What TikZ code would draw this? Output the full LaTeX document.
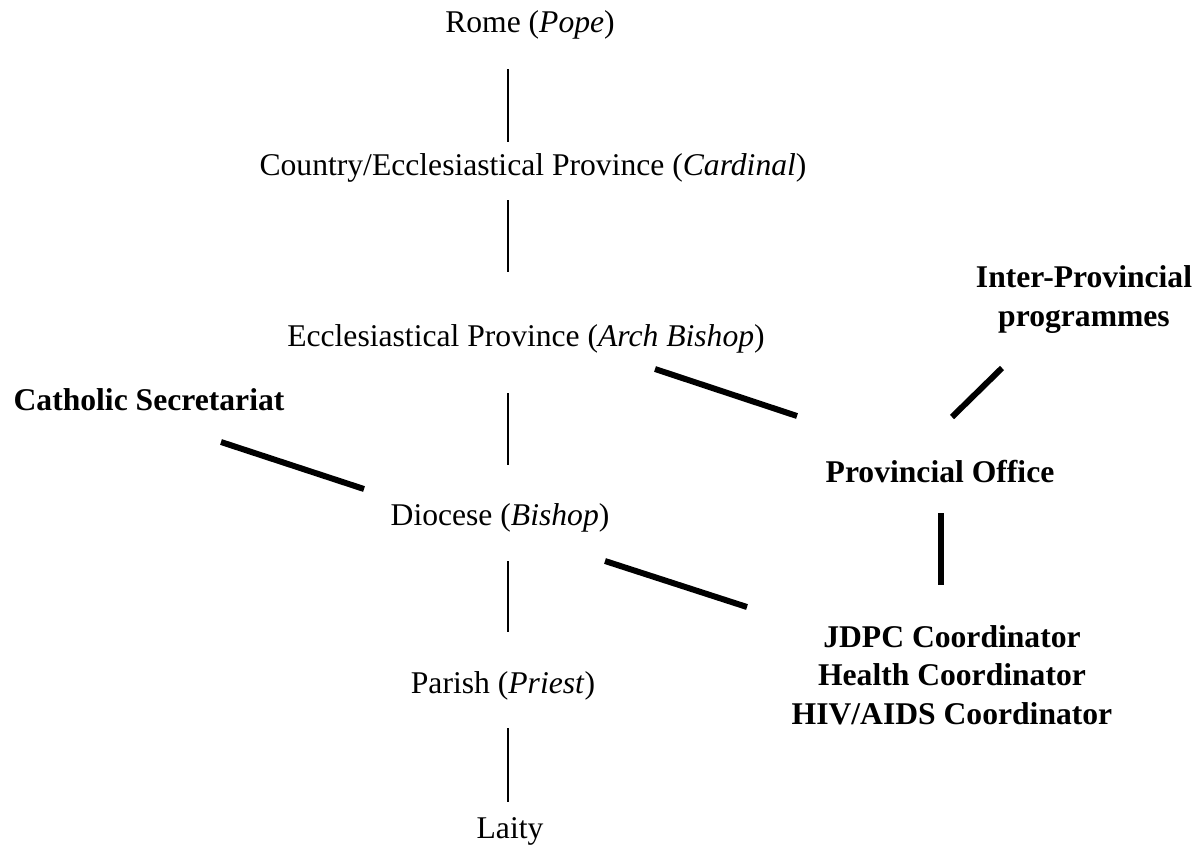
\documentclass[tikz,border=0pt]{standalone}
\usepackage{fontspec}
\setmainfont{Liberation Serif}
\usepackage{tikz}

\begin{document}
\begin{tikzpicture}[x=0.02cm, y=-0.02cm,
    plain/.style={font=\fontsize{18}{21.8}\selectfont, inner sep=0pt, anchor=base},
    head/.style={plain, font=\fontsize{18}{21.8}\selectfont\bfseries, align=center},
    link/.style={line width=0.6pt},
    tie/.style={line width=3.4pt}]
  \useasboundingbox (0,0) rectangle (1204,846);
  % hierarchy
  \node[plain] (rome)    at (530,32)  {Rome (\textit{Pope})};
  \node[plain] (country) at (533,175) {Country/Ecclesiastical Province (\textit{Cardinal})};
  \node[plain] (eccl)    at (526,346) {Ecclesiastical Province (\textit{Arch Bishop})};
  \node[plain] (diocese) at (500,525) {Diocese (\textit{Bishop})};
  \node[plain] (parish)  at (503,693) {Parish (\textit{Priest})};
  \node[plain] (laity)   at (510,838) {Laity};
  % offices (base = last line)
  \node[head] (secretariat) at (149,410)  {Catholic Secretariat};
  \node[head] (interprov)   at (1084,326) {Inter-Provincial\\programmes};
  \node[head] (provoffice)  at (940,482)  {Provincial Office};
  \node[head] (coord)       at (952,724)  {JDPC Coordinator\\Health Coordinator\\HIV/AIDS Coordinator};
  % line ends
  \coordinate (rome-b)     at (508,69);  \coordinate (country-t)  at (508,142);
  \coordinate (country-b)  at (508,200); \coordinate (eccl-t)     at (508,272);
  \coordinate (eccl-b)     at (508,393); \coordinate (diocese-t)  at (508,465);
  \coordinate (diocese-b)  at (508,561); \coordinate (parish-t)   at (508,632);
  \coordinate (parish-b)   at (508,728); \coordinate (laity-t)    at (508,802);
  \coordinate (eccl-r)     at (655,369); \coordinate (prov-l)     at (797,416);
  \coordinate (secr-r)     at (221,442); \coordinate (diocese-l)  at (364,489);
  \coordinate (diocese-r)  at (605,561); \coordinate (coord-l)    at (747,607);
  \coordinate (prov-r)     at (952,417); \coordinate (inter-b)    at (1002,368);
  \coordinate (prov-b)     at (941,513); \coordinate (coord-t)    at (941,585);
  % thin chain
  \draw[link] (rome-b) -- (country-t);
  \draw[link] (country-b) -- (eccl-t);
  \draw[link] (eccl-b) -- (diocese-t);
  \draw[link] (diocese-b) -- (parish-t);
  \draw[link] (parish-b) -- (laity-t);
  % thick ties
  \draw[tie] (eccl-r) -- (prov-l);
  \draw[tie] (secr-r) -- (diocese-l);
  \draw[tie] (diocese-r) -- (coord-l);
  \draw[tie] (prov-r) -- (inter-b);
  \draw[tie] (prov-b) -- (coord-t);
\end{tikzpicture}
\end{document}
